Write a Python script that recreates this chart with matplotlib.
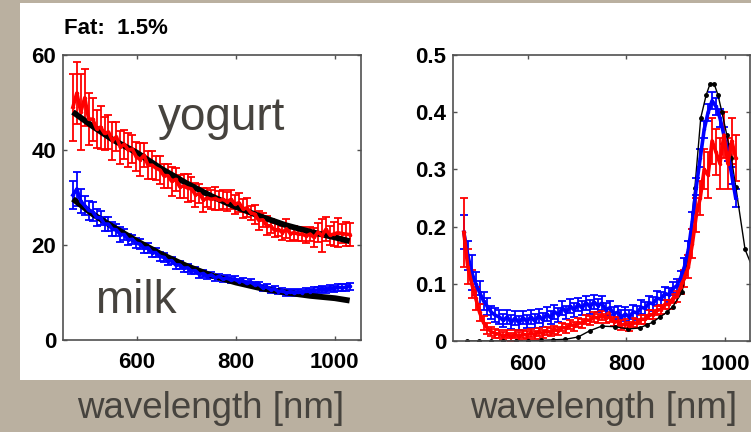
import matplotlib
matplotlib.use("Agg")
import matplotlib.pyplot as plt
import numpy as np
from matplotlib.patches import Rectangle

plt.rcParams["font.family"] = ["Liberation Sans", "DejaVu Sans"]

# ---------------- left panel: reduced scattering (yogurt / milk) ----------------
wl_left = np.arange(470, 1031, 8)

yogurt = [
    49.0, 52.0, 48.0, 51.0, 46.5, 46.5, 44.5, 44.8, 43.5, 43.8,
    42.0, 42.8, 40.6, 41.2, 40.0, 40.2, 38.6, 38.0, 38.9, 36.8,
    36.8, 36.2, 35.8, 34.6, 34.6, 33.4, 33.8, 32.3, 32.4, 32.0,
    31.8, 30.6, 30.8, 29.5, 29.9, 29.6, 29.8, 29.4, 29.6, 29.1,
    29.6, 28.6, 28.9, 27.6, 27.8, 26.8, 26.5, 25.2, 25.3, 24.1,
    24.0, 23.1, 23.3, 22.6, 23.4, 22.4, 22.6, 22.3, 22.3, 21.9,
    22.3, 21.6, 22.7, 22.0, 23.3, 22.1, 22.3, 22.6, 22.4, 22.3, 22.2,
]
yogurt_err = [
    7.0, 6.5, 8.0, 6.0, 5.5, 4.5, 4.0, 4.5, 3.5, 3.5,
    4.0, 3.0, 3.5, 3.0, 3.5, 3.0, 3.0, 3.5, 2.5, 3.0,
    3.0, 2.5, 3.0, 2.5, 2.5, 3.0, 2.5, 2.5, 2.5, 3.0,
    2.5, 2.5, 2.0, 2.5, 2.0, 2.0, 2.5, 2.0, 2.0, 2.0,
    2.0, 2.0, 2.0, 2.0, 2.0, 1.5, 2.0, 2.0, 1.5, 2.0,
    1.5, 1.5, 1.5, 1.5, 2.0, 1.5, 1.5, 1.5, 1.5, 1.5,
    1.5, 2.0, 2.0, 3.5, 2.5, 2.0, 2.5, 3.0, 2.0, 2.5, 2.5,
]
milk = [
    30.5, 31.8, 29.2, 28.3, 27.3, 27.0, 25.8, 25.7, 24.4, 24.4,
    23.3, 23.2, 22.2, 22.2, 21.1, 21.2, 20.4, 20.2, 19.3, 19.4,
    18.4, 18.4, 17.6, 17.4, 16.6, 16.7, 15.8, 15.8, 15.1, 15.2,
    14.5, 14.6, 13.8, 14.0, 13.4, 13.7, 13.1, 13.4, 12.8, 13.1,
    12.6, 12.8, 12.3, 12.5, 11.9, 12.2, 11.6, 11.7, 11.0, 11.2,
    10.6, 10.8, 10.2, 10.4, 9.9, 10.2, 9.9, 10.1, 10.0, 10.3,
    10.2, 10.5, 10.5, 10.8, 10.5, 10.9, 10.8, 11.1, 11.0, 11.1, 11.3,
]
milk_err = [
    3.0, 3.5, 2.5, 2.0, 2.0, 2.0, 1.8, 1.5, 1.5, 1.5,
    1.5, 1.2, 1.5, 1.2, 1.2, 1.0, 1.0, 1.0, 1.0, 1.0,
    1.0, 1.0, 0.9, 0.9, 0.9, 0.8, 0.8, 0.8, 0.8, 0.8,
    0.7, 0.7, 0.7, 0.7, 0.6, 0.6, 0.6, 0.6, 0.6, 0.6,
    0.6, 0.6, 0.6, 0.6, 0.6, 0.6, 0.6, 0.6, 0.6, 0.6,
    0.6, 0.6, 0.6, 0.6, 0.6, 0.6, 0.6, 0.6, 0.6, 0.6,
    0.6, 0.6, 0.6, 0.6, 0.6, 0.6, 0.6, 0.7, 0.7, 0.7, 0.7,
]

fit_wl = [470, 510, 550, 600, 650, 700, 750, 800, 850, 900, 950, 1000, 1030]
yogurt_fit = [48.0, 45.0, 42.2, 39.4, 36.0, 33.0, 30.3, 28.0, 26.0, 24.2, 22.8, 21.6, 20.8]
milk_fit = [29.7, 26.5, 23.9, 20.8, 18.0, 15.6, 13.6, 12.1, 10.9, 10.0, 9.3, 8.8, 8.3]

# ---------------- right panel: absorption ----------------
wl_right = np.arange(470, 1023, 8)

red_abs = [
    0.19, 0.13, 0.10, 0.075, 0.05, 0.032, 0.022, 0.016, 0.013, 0.012,
    0.008, 0.012, 0.007, 0.012, 0.008, 0.012, 0.010, 0.014, 0.011, 0.016,
    0.013, 0.018, 0.015, 0.020, 0.018, 0.024, 0.022, 0.029, 0.026, 0.032,
    0.031, 0.037, 0.036, 0.042, 0.040, 0.045, 0.040, 0.042, 0.034, 0.034,
    0.028, 0.030, 0.026, 0.032, 0.031, 0.038, 0.038, 0.046, 0.046, 0.054,
    0.055, 0.064, 0.064, 0.074, 0.078, 0.094, 0.11, 0.13, 0.17, 0.22,
    0.25, 0.30, 0.29, 0.35, 0.33, 0.31, 0.36, 0.31, 0.35, 0.32,
]
red_err = [
    0.06, 0.03, 0.025, 0.02, 0.015, 0.012, 0.01, 0.008, 0.008, 0.007,
    0.007, 0.007, 0.007, 0.007, 0.007, 0.007, 0.007, 0.007, 0.007, 0.007,
    0.007, 0.007, 0.007, 0.007, 0.007, 0.007, 0.008, 0.008, 0.008, 0.008,
    0.008, 0.008, 0.008, 0.008, 0.008, 0.008, 0.008, 0.008, 0.008, 0.008,
    0.008, 0.008, 0.008, 0.008, 0.008, 0.008, 0.008, 0.008, 0.008, 0.008,
    0.008, 0.008, 0.008, 0.008, 0.010, 0.012, 0.015, 0.02, 0.025, 0.03,
    0.03, 0.035, 0.04, 0.04, 0.04, 0.045, 0.04, 0.045, 0.04, 0.04,
]
blue_abs = [
    0.19, 0.15, 0.12, 0.10, 0.085, 0.07, 0.06, 0.05, 0.045, 0.042,
    0.036, 0.042, 0.033, 0.040, 0.032, 0.041, 0.034, 0.042, 0.035, 0.044,
    0.037, 0.047, 0.041, 0.051, 0.046, 0.058, 0.050, 0.061, 0.054, 0.064,
    0.058, 0.067, 0.060, 0.068, 0.062, 0.066, 0.055, 0.058, 0.048, 0.050,
    0.042, 0.047, 0.042, 0.051, 0.049, 0.059, 0.057, 0.067, 0.065, 0.075,
    0.073, 0.083, 0.081, 0.092, 0.096, 0.11, 0.13, 0.16, 0.21, 0.27,
    0.32, 0.37, 0.40, 0.42, 0.41, 0.39, 0.36, 0.33, 0.29, 0.25,
]
blue_err = [
    0.03, 0.025, 0.03, 0.02, 0.02, 0.015, 0.015, 0.012, 0.012, 0.012,
    0.012, 0.012, 0.012, 0.012, 0.012, 0.012, 0.012, 0.012, 0.012, 0.012,
    0.012, 0.012, 0.012, 0.012, 0.012, 0.012, 0.012, 0.012, 0.012, 0.012,
    0.012, 0.012, 0.012, 0.012, 0.012, 0.012, 0.012, 0.012, 0.012, 0.012,
    0.012, 0.012, 0.012, 0.012, 0.012, 0.012, 0.012, 0.012, 0.012, 0.012,
    0.012, 0.012, 0.012, 0.012, 0.012, 0.012, 0.015, 0.015, 0.015, 0.015,
    0.015, 0.015, 0.015, 0.015, 0.015, 0.015, 0.015, 0.015, 0.015, 0.015,
]

model_wl = [476, 501, 526, 550, 575, 600, 626, 651, 676, 702, 726, 750, 777, 804,
            827, 841, 854, 868, 882, 894, 913, 925, 929, 939, 951, 962, 970, 978,
            986, 994, 1004, 1013, 1022, 1041, 1060]
model_abs = [0.0, 0.0, 0.0, 0.0, 0.0, 0.0, 0.001, 0.002, 0.003, 0.007, 0.018, 0.026,
             0.025, 0.021, 0.023, 0.028, 0.033, 0.042, 0.05, 0.06, 0.085, 0.145,
             0.177, 0.267, 0.39, 0.43, 0.45, 0.45, 0.43, 0.40, 0.36, 0.32, 0.27,
             0.16, 0.12]

bg = "#bab0a0"
txt_col = "#46433e"
spine_col = "#505050"

fig = plt.figure(figsize=(7.51, 4.32), dpi=100, facecolor=bg)
fig.patches.append(Rectangle((20 / 751, 1 - 380 / 432), 1.0, 377 / 432,
                             transform=fig.transFigure, facecolor="white",
                             edgecolor="none", zorder=-10))

ax1 = fig.add_axes([63 / 751, 1 - 340 / 432, 298 / 751, 285 / 432])
ax2 = fig.add_axes([453 / 751, 1 - 341 / 432, 297 / 751, 286 / 432])

eb_kw = dict(elinewidth=1.3, capsize=2.6, capthick=1.3, lw=2.6, ms=3)

ax1.errorbar(wl_left, yogurt, yerr=yogurt_err, fmt=".-", color="red", **eb_kw)
ax1.errorbar(wl_left, milk, yerr=milk_err, fmt=".-", color="blue", **eb_kw)
ax1.plot(fit_wl, yogurt_fit, color="black", lw=4.2, solid_capstyle="butt")
ax1.plot(fit_wl, milk_fit, color="black", lw=4.2, solid_capstyle="butt")
ax1.set_xlim(450, 1053)
ax1.set_ylim(0, 60)
ax1.set_yticks([0, 20, 40, 60])
ax1.set_xticks([600, 800, 1000])
ax1.text(641, 44.2, "yogurt", fontsize=33, color=txt_col, va="baseline")
ax1.text(515, 5.7, "milk", fontsize=33, color=txt_col, va="baseline")
ax1.text(0.003, 1.055, "Fat:  1.5%", transform=ax1.transAxes, fontsize=16,
         fontweight="bold", va="bottom", ha="left")

ax2.errorbar(wl_right, blue_abs, yerr=blue_err, fmt=".-", color="blue", **eb_kw)
ax2.errorbar(wl_right, red_abs, yerr=red_err, fmt=".-", color="red", **eb_kw)
ax2.plot(model_wl, model_abs, "-", color="black", lw=1.0, marker=".", ms=5)
ax2.set_xlim(448, 1051)
ax2.set_ylim(0, 0.5)
ax2.set_yticks([0, 0.1, 0.2, 0.3, 0.4, 0.5])
ax2.set_yticklabels(["0", "0.1", "0.2", "0.3", "0.4", "0.5"])
ax2.set_xticks([600, 800, 1000])

for ax in (ax1, ax2):
    ax.set_facecolor("white")
    for s in ax.spines.values():
        s.set_color(spine_col)
        s.set_linewidth(1.2)
    ax.tick_params(direction="in", length=3, width=1, top=True, right=True,
                   color=spine_col, labelsize=16)
    ax.tick_params(axis="x", pad=9)
    ax.tick_params(axis="y", pad=5)
    for lab in ax.get_xticklabels() + ax.get_yticklabels():
        lab.set_fontweight("bold")

fig.text(211 / 751, 1 - 418 / 432, "wavelength [nm]", fontsize=26.5, color=txt_col,
         ha="center", va="baseline")
fig.text(604 / 751, 1 - 418 / 432, "wavelength [nm]", fontsize=26.5, color=txt_col,
         ha="center", va="baseline")

fig.savefig("out.png", dpi=100, facecolor=bg)
